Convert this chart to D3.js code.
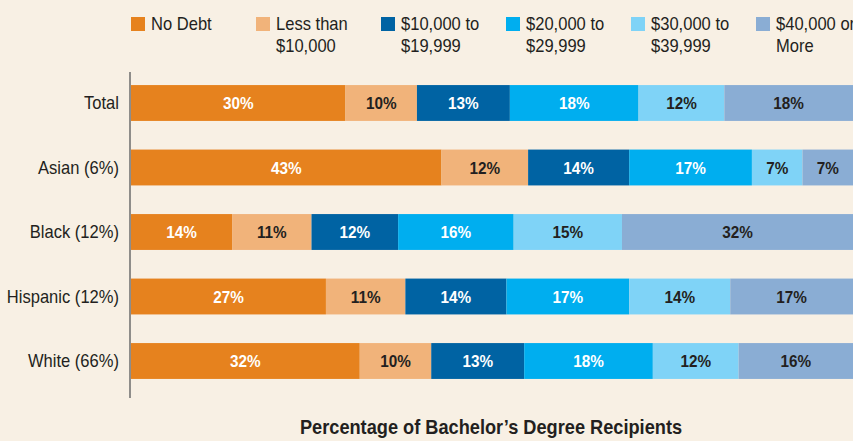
<!DOCTYPE html>
<html><head><meta charset="utf-8">
<script src="https://cdn.jsdelivr.net/npm/d3@7"></script>
<style>
html,body{margin:0;padding:0;background:#f8f0e4;}
svg{display:block;}
text{font-family:"Liberation Sans",Arial,sans-serif;}
</style></head>
<body><svg id="c" width="853" height="441"></svg>
<script>
const categories = ["Total","Asian (6%)","Black (12%)","Hispanic (12%)","White (66%)"];
const seriesNames = [["No Debt"],["Less than","$10,000"],["$10,000 to","$19,999"],["$20,000 to","$29,999"],["$30,000 to","$39,999"],["$40,000 or","More"]];
const noDebt   = [30,43,14,27,32];
const lt10k    = [10,12,11,11,10];
const k10to20  = [13,14,12,14,13];
const k20to30  = [18,17,16,17,18];
const k30to40  = [12,7,15,14,12];
const k40plus  = [18,7,32,17,16];
const colors = ["#e6821e","#f1b37a","#0063a3","#00aeef","#7fd3f7","#8aadd4"];
const labelColors = ["#ffffff","#231f20","#ffffff","#ffffff","#231f20","#231f20"];
const axisTitle = "Percentage of Bachelor\u2019s Degree Recipients";

const series = [noDebt,lt10k,k10to20,k20to30,k30to40,k40plus];
const svg = d3.select("#c");
const SX = 0.92;   // horizontal condensing for text

function ctext(parent, x, y, sx){
  return parent.append("text").attr("transform",`scale(${sx},1)`).attr("x",x/sx).attr("y",y);
}

const x = d3.scaleLinear().domain([0,1]).range([131,853]);
const y = d3.scaleBand().domain(categories).range([67,397]).paddingInner(0.444).paddingOuter(0.28);

categories.forEach((cat,i)=>{
  const vals = series.map(s=>s[i]);
  const total = d3.sum(vals);
  let acc = 0;
  const segs = vals.map((v,j)=>{const s={j,v,x0:acc/total,x1:(acc+v)/total}; acc+=v; return s;});
  const g = svg.append("g");
  g.selectAll("rect").data(segs).join("rect")
    .attr("x",d=>x(d.x0)).attr("width",d=>x(d.x1)-x(d.x0))
    .attr("y",y(cat)).attr("height",y.bandwidth())
    .attr("fill",d=>colors[d.j]);
  segs.forEach(d=>{
    ctext(g,(x(d.x0)+x(d.x1))/2,y(cat)+y.bandwidth()/2,0.9)
      .attr("dy","0.36em").attr("text-anchor","middle")
      .attr("font-size",17).attr("font-weight","bold")
      .attr("fill",labelColors[d.j]).text(d.v+"%");
  });
});

// category axis
const yAxis = svg.append("g").attr("transform","translate(130,0)")
  .call(d3.axisLeft(y).tickSize(0).tickPadding(11));
yAxis.select(".domain").remove();
yAxis.selectAll("text").attr("font-size",18).attr("fill","#231f20")
  .attr("font-family",'"Liberation Sans",Arial,sans-serif').attr("dy","0.36em")
  .attr("transform",`scale(${SX},1)`).attr("x",-11/SX);
svg.append("line").attr("x1",130).attr("x2",130).attr("y1",72).attr("y2",398)
  .attr("stroke","#6d6d6d").attr("stroke-width",1.5);

// legend
const lx = d3.scalePoint().domain(d3.range(6)).range([131,756]);
const leg = svg.append("g");
seriesNames.forEach((nm,j)=>{
  leg.append("rect").attr("x",lx(j)).attr("y",17).attr("width",14).attr("height",14).attr("fill",colors[j]);
  const t = ctext(leg,lx(j)+20,30,SX).attr("font-size",18).attr("fill","#231f20");
  nm.forEach((line,k)=>t.append("tspan").attr("x",(lx(j)+20)/SX).attr("dy",k?21.7:0).text(line));
});

// axis title
ctext(svg,491,434,0.91).attr("text-anchor","middle")
  .attr("font-size",20).attr("font-weight","bold").attr("fill","#231f20").text(axisTitle);
</script></body></html>
